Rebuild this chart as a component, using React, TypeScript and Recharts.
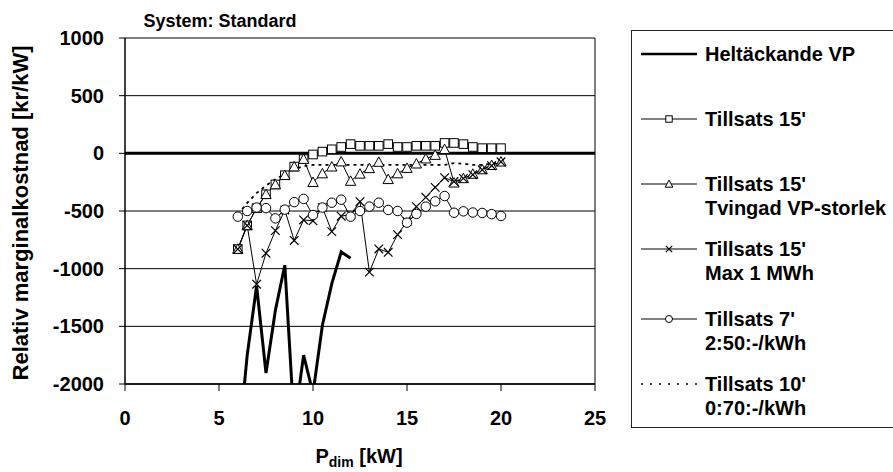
import React from "react";
import { LineChart, Line, XAxis, YAxis, CartesianGrid, ReferenceLine, Legend } from "recharts";

// P_dim [kW], one point every 0.5 kW
const pDim = [6, 6.5, 7, 7.5, 8, 8.5, 9, 9.5, 10, 10.5, 11, 11.5, 12, 12.5, 13, 13.5, 14, 14.5, 15, 15.5, 16, 16.5, 17, 17.5, 18, 18.5, 19, 19.5, 20];

// relativ marginalkostnad [kr/kW]
const heltackande = [-2600, -1750, -1150, -1905, -1360, -970, -2350, -1750, -2080, -1490, -1130, -855, -910];
const tillsats15 = [-830, -625, -475, -355, -270, -190, -115, -50, -10, 15, 35, 55, 80, 65, 65, 65, 80, 55, 55, 65, 65, 65, 90, 90, 80, 55, 45, 45, 45];
const tillsats15Tvingad = [-830, -625, -475, -355, -270, -190, -115, -50, -250, -175, -116, -72, -240, -178, -130, -75, -225, -175, -128, -90, -46, -15, 35, -255, -217, -179, -140, -103, -73];
const tillsats15Max = [-830, -625, -1135, -866, -670, -491, -755, -578, -585, -470, -679, -545, -530, -419, -1030, -829, -858, -705, -592, -462, -381, -295, -211, -245, -217, -185, -143, -107, -73];
const tillsats7 = [-549, -500, -470, -475, -564, -488, -423, -395, -535, -470, -428, -402, -549, -500, -462, -428, -491, -500, -601, -525, -462, -416, -370, -515, -503, -513, -517, -527, -543];
const tillsats10 = [-530, -430, -345, -280, -225, -180, -140, -110, -100, -100, -100, -100, -100, -100, -100, -100, -100, -100, -100, -100, -100, -100, -100, -85, -90, -100, -100, -90, -75];

// the thick zero line runs across the whole x range
const zeroLineX = [0, 25];

const xTicks = [0, 5, 10, 15, 20, 25];
const yTicks = [-2000, -1500, -1000, -500, 0, 500, 1000];

const legendLabels = [
  ["Heltäckande VP"],
  ["Tillsats 15'"],
  ["Tillsats 15'", "Tvingad VP-storlek"],
  ["Tillsats 15'", "Max 1 MWh"],
  ["Tillsats 7'", "2:50:-/kWh"],
  ["Tillsats 10'", "0:70:-/kWh"],
];
const legendMarkers = ["thick", "square", "triangle", "cross", "circle", "dotted"];
const legendRowTops = [23, 88, 153, 218, 288, 353];

const data = [
  { x: zeroLineX[0], zero: 0 },
  ...pDim.map((x, i) => ({
    x,
    zero: 0,
    helt: i < heltackande.length ? heltackande[i] : null,
    t15: tillsats15[i],
    t15t: tillsats15Tvingad[i],
    t15m: tillsats15Max[i],
    t7: tillsats7[i],
    t10: tillsats10[i],
  })),
  { x: zeroLineX[1], zero: 0 },
];

const FONT = '"Liberation Sans", Arial, Helvetica, sans-serif';

function marker(kind: string, cx: number, cy: number, s: number, key?: any) {
  if (kind === "square")
    return <rect key={key} x={cx - s} y={cy - s} width={s * 2} height={s * 2} fill="#fff" stroke="#000" strokeWidth={1} />;
  if (kind === "triangle")
    return (
      <polygon key={key} points={`${cx},${cy - s * 1.2} ${cx - s * 1.2},${cy + s} ${cx + s * 1.2},${cy + s}`} fill="#fff" stroke="#000" strokeWidth={1} />
    );
  if (kind === "cross")
    return (
      <path key={key} d={`M${cx - s},${cy - s}L${cx + s},${cy + s}M${cx - s},${cy + s}L${cx + s},${cy - s}`} stroke="#000" strokeWidth={1.2} fill="none" />
    );
  if (kind === "circle") return <circle key={key} cx={cx} cy={cy} r={s * 1.1} fill="#fff" stroke="#000" strokeWidth={1} />;
  return <g key={key} />;
}

const dotOf = (kind: string) => (p: any) => {
  if (p.cx == null || p.cy == null || p.value == null) return <g key={p.index} />;
  return marker(kind, p.cx, p.cy, 4.3, p.index);
};

function LegendBox() {
  return (
    <div style={{ position: "relative", width: "100%", height: "100%", fontFamily: FONT }}>
      {legendLabels.map((lines, i) => {
        const kind = legendMarkers[i];
        return (
          <div key={i} style={{ position: "absolute", left: 0, top: legendRowTops[i] - 12 }}>
            <svg width={60} height={24} style={{ position: "absolute", left: 9, top: 0 }}>
              <line
                x1={0}
                x2={56}
                y1={12}
                y2={12}
                stroke="#000"
                strokeWidth={kind === "thick" ? 2.5 : kind === "dotted" ? 1.5 : 1}
                strokeDasharray={kind === "dotted" ? "2 7" : undefined}
              />
              {marker(kind, 28, 12, 3.2)}
            </svg>
            <div style={{ position: "absolute", left: 73, top: 0, whiteSpace: "nowrap", fontSize: 20, fontWeight: 700, lineHeight: "24px", color: "#000" }}>
              {lines.map((t, j) => (
                <div key={j}>{t}</div>
              ))}
            </div>
          </div>
        );
      })}
    </div>
  );
}

export default function App() {
  const tick = { fill: "#000", fontSize: 20, fontWeight: 700, fontFamily: FONT };
  return (
    <div style={{ position: "absolute", left: 0, top: 0, width: 893, height: 472, background: "#fff", fontFamily: FONT, overflow: "hidden" }}>
      <LineChart width={893} height={472} data={data} margin={{ top: 38, right: 298, bottom: 0, left: 0 }}>
        <CartesianGrid horizontal vertical={false} stroke="#000" strokeWidth={1} />
        <XAxis
          type="number"
          dataKey="x"
          domain={[0, 25]}
          ticks={xTicks}
          height={88}
          tick={tick}
          tickSize={7}
          tickMargin={20}
          axisLine={{ stroke: "#000", strokeWidth: 1.5 }}
          tickLine={{ stroke: "#000" }}
        />
        <YAxis
          type="number"
          domain={[-2000, 1000]}
          ticks={yTicks}
          allowDataOverflow
          width={125}
          tick={tick}
          tickSize={6}
          tickMargin={15}
          axisLine={{ stroke: "#000", strokeWidth: 1.5 }}
          tickLine={{ stroke: "#000" }}
        />
        <ReferenceLine x={25} stroke="#000" strokeWidth={1} />
        <Line dataKey="zero" stroke="#000" strokeWidth={3} dot={false} legendType="none" isAnimationActive={false} />
        <Line name="Heltäckande VP" dataKey="helt" stroke="#000" strokeWidth={3} dot={false} isAnimationActive={false} />
        <Line name="Tillsats 15'" dataKey="t15" stroke="#000" strokeWidth={1} dot={dotOf("square")} isAnimationActive={false} />
        <Line name="Tillsats 15' Tvingad VP-storlek" dataKey="t15t" stroke="#000" strokeWidth={1} dot={dotOf("triangle")} isAnimationActive={false} />
        <Line name="Tillsats 15' Max 1 MWh" dataKey="t15m" stroke="#000" strokeWidth={1} dot={dotOf("cross")} isAnimationActive={false} />
        <Line name="Tillsats 7' 2:50:-/kWh" dataKey="t7" stroke="#000" strokeWidth={1} dot={dotOf("circle")} isAnimationActive={false} />
        <Line name="Tillsats 10' 0:70:-/kWh" dataKey="t10" stroke="#000" strokeWidth={1.8} strokeDasharray="3 4" dot={false} isAnimationActive={false} />
        <Legend
          layout="horizontal"
          verticalAlign="middle"
          align="center"
          content={() => <LegendBox />}
          wrapperStyle={{ left: 631, top: 30, width: 275, height: 398, border: "1.5px solid #222", boxSizing: "border-box", background: "#fff" }}
        />
      </LineChart>
      <div style={{ position: "absolute", left: 220, top: 21, transform: "translate(-50%, -50%)", fontSize: 18, fontWeight: 700, whiteSpace: "nowrap" }}>
        System: Standard
      </div>
      <div
        style={{ position: "absolute", left: 21, top: 213, transform: "translate(-50%, -50%) rotate(-90deg)", fontSize: 22, fontWeight: 700, whiteSpace: "nowrap" }}
      >
        Relativ marginalkostnad [kr/kW]
      </div>
      <div style={{ position: "absolute", left: 359, top: 457, transform: "translate(-50%, -50%)", fontSize: 20, fontWeight: 700, whiteSpace: "nowrap", lineHeight: "22px" }}>
        P<sub style={{ fontSize: 14, verticalAlign: "-4px", lineHeight: "14px" }}>dim</sub> [kW]
      </div>
    </div>
  );
}
